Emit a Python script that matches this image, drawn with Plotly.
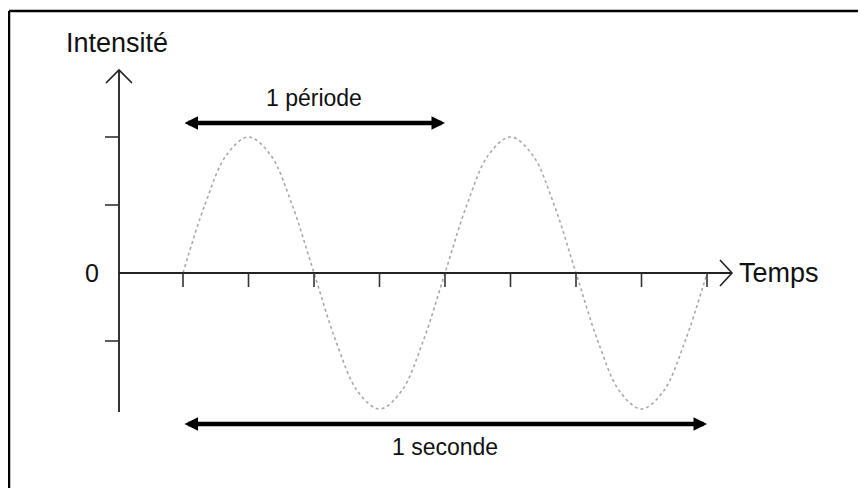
import plotly.graph_objects as go

# ---- data ----
time_s = [i / 24 for i in range(25)]
intensity = [0, 0.5, 0.87, 1, 0.87, 0.5, 0, -0.5, -0.87, -1, -0.87, -0.5,
             0, 0.5, 0.87, 1, 0.87, 0.5, 0, -0.5, -0.87, -1, -0.87, -0.5, 0]
time_ticks = [0, 0.125, 0.25, 0.375, 0.5, 0.625, 0.75, 0.875, 1.0]
intensity_ticks = [1, 0.5, -0.5]
zero_label = "0"
period_span = [0, 0.5]
second_span = [0, 1.0]
y_title = "Intensité"
x_title = "Temps"
period_label = "1 période"
second_label = "1 seconde"

# ---- scale (pixels per unit) ----
W, H = 866, 488
OFF = 8        # page body margin
PX_X = 524.0   # px per second
PX_Y = 136.0   # px per intensity unit
X0_PX, Y0_PX = 183, 273
xr = [-(X0_PX - OFF) / PX_X, (W - (X0_PX - OFF)) / PX_X]
yr = [-(H - (Y0_PX - OFF)) / PX_Y, (Y0_PX - OFF) / PX_Y]

def dx(p):
    return p / PX_X

def dy(p):
    return p / PX_Y

yaxis_x = dx(119 - X0_PX)
yaxis_top = dy(Y0_PX - 70)
yaxis_bot = dy(Y0_PX - 412)
xaxis_end = dx(732 - X0_PX)

FONT = "Arial, Liberation Sans, sans-serif"
AX_COL = "#222222"

fig = go.Figure()

# sine curve
fig.add_trace(go.Scatter(x=time_s, y=intensity, mode="lines",
                         line=dict(color="#a8a8a8", width=1.6, dash="dot",
                                   shape="spline", smoothing=1.0),
                         hoverinfo="skip"))

# axes lines
fig.add_trace(go.Scatter(x=[yaxis_x, yaxis_x], y=[yaxis_bot, yaxis_top], mode="lines",
                         line=dict(color="#333333", width=2), hoverinfo="skip"))
fig.add_trace(go.Scatter(x=[yaxis_x, xaxis_end], y=[0, 0], mode="lines",
                         line=dict(color=AX_COL, width=2), hoverinfo="skip"))

# open arrow heads
fig.add_trace(go.Scatter(
    x=[yaxis_x - dx(13), yaxis_x, yaxis_x + dx(13), None,
       xaxis_end - dx(12), xaxis_end, xaxis_end - dx(12)],
    y=[yaxis_top - dy(13), yaxis_top, yaxis_top - dy(13), None,
       dy(13), 0, -dy(13)],
    mode="lines", line=dict(color=AX_COL, width=1.6), hoverinfo="skip"))

# x ticks
tx, ty = [], []
for t in time_ticks:
    tx += [t, t, None]
    ty += [0, -dy(14), None]
fig.add_trace(go.Scatter(x=tx, y=ty, mode="lines",
                         line=dict(color="#333333", width=1.6), hoverinfo="skip"))
# y ticks
yx, yy = [], []
for v in intensity_ticks:
    yx += [yaxis_x - dx(14), yaxis_x, None]
    yy += [v, v, None]
fig.add_trace(go.Scatter(x=yx, y=yy, mode="lines",
                         line=dict(color="#333333", width=1.6), hoverinfo="skip"))

annotations = []
# double arrows
for span, yv in [(period_span, dy(Y0_PX - 123)), (second_span, dy(Y0_PX - 424))]:
    annotations.append(dict(x=span[1], y=yv, ax=span[0], ay=yv, xref="x", yref="y",
                            axref="x", ayref="y", text="", showarrow=True,
                            arrowside="end+start", arrowhead=2, startarrowhead=2,
                            arrowsize=0.6, startarrowsize=0.6, arrowwidth=4.5,
                            arrowcolor="black", standoff=0, startstandoff=0))
# labels
annotations.append(dict(x=sum(period_span) / 2, y=dy(Y0_PX - 98), text=period_label,
                        showarrow=False, xanchor="center", yanchor="middle",
                        font=dict(family=FONT, size=23, color="#111111")))
annotations.append(dict(x=sum(second_span) / 2, y=dy(Y0_PX - 447), text=second_label,
                        showarrow=False, xanchor="center", yanchor="middle",
                        font=dict(family=FONT, size=23, color="#111111")))
annotations.append(dict(x=dx(117 - X0_PX), y=dy(Y0_PX - 43), text=y_title,
                        showarrow=False, xanchor="center", yanchor="middle",
                        font=dict(family=FONT, size=27, color="#111111")))
annotations.append(dict(x=dx(737 - X0_PX), y=0, text=x_title,
                        showarrow=False, xanchor="left", yanchor="middle",
                        font=dict(family=FONT, size=27, color="#111111")))
annotations.append(dict(x=dx(101 - X0_PX), y=0, text=zero_label,
                        showarrow=False, xanchor="right", yanchor="middle",
                        font=dict(family=FONT, size=25, color="#111111")))

# frame (left and top edges only)
shapes = [
    dict(type="line", xref="paper", yref="paper", x0=(9 - OFF) / W, x1=(9 - OFF) / W,
         y0=0, y1=1 - (11 - OFF) / H, line=dict(color="black", width=2.5)),
    dict(type="line", xref="paper", yref="paper", x0=(9 - OFF) / W, x1=1,
         y0=1 - (11 - OFF) / H, y1=1 - (11 - OFF) / H, line=dict(color="black", width=2.5)),
]

fig.update_layout(
    width=W, height=H, autosize=False,
    margin=dict(l=0, r=0, t=0, b=0, pad=0),
    paper_bgcolor="white", plot_bgcolor="white",
    showlegend=False,
    xaxis=dict(range=xr, visible=False, fixedrange=True),
    yaxis=dict(range=yr, visible=False, fixedrange=True),
    annotations=annotations, shapes=shapes,
)

fig.write_html("out.html", config={"displayModeBar": False})
